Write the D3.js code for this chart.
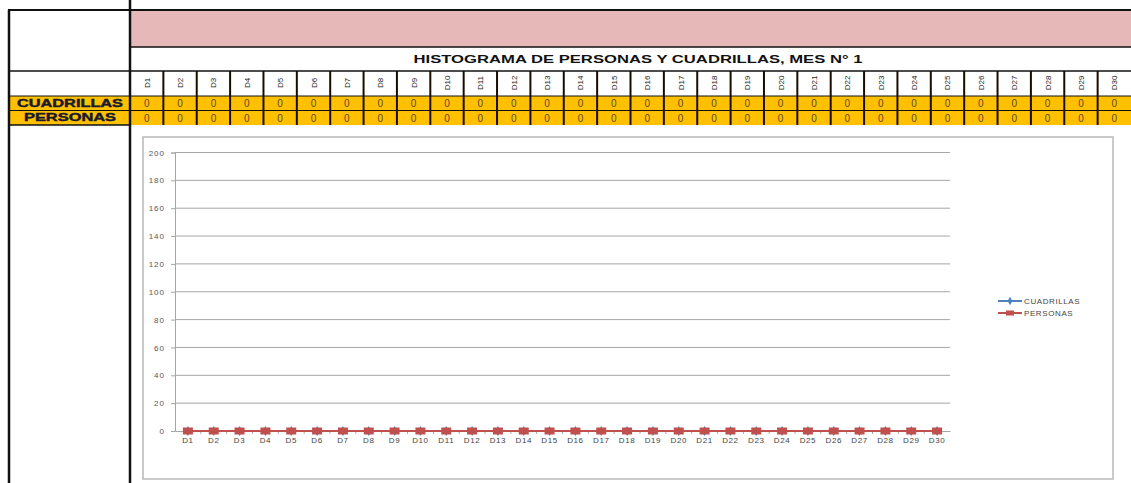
<!DOCTYPE html>
<html>
<head>
<meta charset="utf-8">
<script src="https://cdn.jsdelivr.net/npm/d3@7/dist/d3.min.js"></script>
<style>
  html, body { margin: 0; padding: 0; background: #fff; overflow: hidden; }
  text { font-family: "Liberation Sans", Arial, sans-serif; }
</style>
</head>
<body>
<div id="vis"></div>
<script>
const title = "HISTOGRAMA DE PERSONAS Y CUADRILLAS, MES N° 1";
const days = ["D1", "D2", "D3", "D4", "D5", "D6", "D7", "D8", "D9", "D10",
  "D11", "D12", "D13", "D14", "D15", "D16", "D17", "D18", "D19", "D20",
  "D21", "D22", "D23", "D24", "D25", "D26", "D27", "D28", "D29", "D30"];
const cuadrillas = [0, 0, 0, 0, 0, 0, 0, 0, 0, 0, 0, 0, 0, 0, 0,
  0, 0, 0, 0, 0, 0, 0, 0, 0, 0, 0, 0, 0, 0, 0];
const personas = [0, 0, 0, 0, 0, 0, 0, 0, 0, 0, 0, 0, 0, 0, 0,
  0, 0, 0, 0, 0, 0, 0, 0, 0, 0, 0, 0, 0, 0, 0];
const yTicks = [0, 20, 40, 60, 80, 100, 120, 140, 160, 180, 200];
const seriesNames = ["CUADRILLAS", "PERSONAS"];
const seriesColors = ["#4F81BD", "#C0504D"];

const w = 1131, h = 483;
const svg = d3.select("#vis").append("svg").attr("width", w).attr("height", h);

// ---- spreadsheet part ----
const colX = d3.scaleBand().domain(days).range([130, 1131]);
const rows = [
  { name: seriesNames[0], values: cuadrillas, y: 96 },
  { name: seriesNames[1], values: personas, y: 110.5 }
];
const rowH = 14.5;

// pink band
svg.append("rect").attr("x", 130).attr("y", 10).attr("width", w - 130).attr("height", 37)
  .attr("fill", "#E6B8B7");

// title
svg.append("text").attr("x", 638).attr("y", 63).attr("text-anchor", "middle")
  .attr("font-family", "DejaVu Sans").attr("font-weight", "bold").attr("font-size", 10)
  .attr("textLength", 449).attr("lengthAdjust", "spacingAndGlyphs")
  .attr("fill", "#111").text(title);

// day header cells
svg.selectAll(".dayLabel").data(days).join("text")
  .attr("class", "dayLabel")
  .attr("transform", d => `translate(${colX(d) + colX.bandwidth() / 2 + 3},83) rotate(-90)`)
  .attr("text-anchor", "middle").attr("font-size", 8).attr("fill", "#222")
  .text(d => d);

// orange rows
rows.forEach(r => {
  svg.append("rect").attr("x", 8).attr("y", r.y).attr("width", w - 8).attr("height", rowH)
    .attr("fill", "#FFC000");
  svg.append("text").attr("x", 70).attr("y", r.y + 10.5).attr("text-anchor", "middle")
    .attr("font-family", "DejaVu Sans").attr("font-weight", "bold").attr("font-size", 10)
    .attr("textLength", r.name === "CUADRILLAS" ? 106 : 92).attr("lengthAdjust", "spacingAndGlyphs")
    .attr("fill", "#1a1a2e").attr("stroke", "#1a1a2e").attr("stroke-width", 0.4)
    .text(r.name);
  svg.selectAll(null).data(r.values).join("text")
    .attr("x", (d, i) => colX(days[i]) + colX.bandwidth() / 2)
    .attr("y", r.y + 11).attr("text-anchor", "middle").attr("font-size", 10)
    .attr("font-family", "DejaVu Sans")
    .attr("fill", "#5a4a2a").text(d => d);
});

// grid lines of the sheet
const g = svg.append("g").attr("stroke", "#111").attr("fill", "none");
g.append("line").attr("x1", 8).attr("x2", w).attr("y1", 10).attr("y2", 10).attr("stroke-width", 2);
g.append("line").attr("x1", 130).attr("x2", w).attr("y1", 47).attr("y2", 47).attr("stroke-width", 1.5);
g.append("line").attr("x1", 8).attr("x2", w).attr("y1", 71).attr("y2", 71).attr("stroke-width", 1.5);
g.append("line").attr("x1", 8).attr("x2", w).attr("y1", 96).attr("y2", 96).attr("stroke-width", 1);
g.append("line").attr("x1", 8).attr("x2", w).attr("y1", 110.5).attr("y2", 110.5).attr("stroke-width", 1);
g.append("line").attr("x1", 8).attr("x2", 130).attr("y1", 125).attr("y2", 125).attr("stroke-width", 1.5);
g.append("line").attr("x1", 9).attr("x2", 9).attr("y1", 10).attr("y2", h).attr("stroke-width", 2.5);
g.append("line").attr("x1", 130).attr("x2", 130).attr("y1", 0).attr("y2", h).attr("stroke-width", 2.5);
g.selectAll(".colSep").data(days.slice(1)).join("line")
  .attr("class", "colSep")
  .attr("x1", d => colX(d)).attr("x2", d => colX(d))
  .attr("y1", 71).attr("y2", 125).attr("stroke-width", 2).attr("stroke", "#1a0d00");

// ---- chart part ----
svg.append("rect").attr("x", 143).attr("y", 137).attr("width", 970).attr("height", 342)
  .attr("fill", "#fff").attr("stroke", "#B8B8B8").attr("stroke-width", 1.5);

const x = d3.scaleBand().domain(days).range([175, 950]);
const y = d3.scaleLinear().domain([0, 200]).range([431, 152.5]);

// gridlines
svg.append("g").selectAll("line").data(yTicks.filter(t => t > 0)).join("line")
  .attr("x1", 175).attr("x2", 950).attr("y1", d => y(d)).attr("y2", d => y(d))
  .attr("stroke", "#A6A6A6").attr("stroke-width", 1);

const yAxis = svg.append("g").attr("transform", "translate(175,0)")
  .call(d3.axisLeft(y).tickValues(yTicks).tickSize(4).tickPadding(6));
yAxis.select(".domain").attr("stroke", "#A6A6A6");
yAxis.selectAll(".tick line").attr("stroke", "#A6A6A6");
yAxis.selectAll(".tick text").attr("font-size", 8).attr("fill", "#555")
  .attr("font-family", "DejaVu Sans").attr("letter-spacing", 1);

const xAxis = svg.append("g").attr("transform", "translate(0,431)")
  .call(d3.axisBottom(x).tickSize(0).tickPadding(6));
xAxis.select(".domain").attr("stroke", "#A6A6A6");
xAxis.selectAll(".tick text").attr("font-size", 8).attr("fill", "#444")
  .attr("font-family", "DejaVu Sans").attr("letter-spacing", 0.6);
// category separator ticks
svg.append("g").selectAll("line").data(days.slice(1)).join("line")
  .attr("x1", d => x(d)).attr("x2", d => x(d)).attr("y1", 431).attr("y2", 434)
  .attr("stroke", "#A6A6A6");

const line = d3.line().x((d, i) => x(days[i]) + x.bandwidth() / 2).y(d => y(d));
const series = [cuadrillas, personas];
series.forEach((s, k) => {
  svg.append("path").attr("d", line(s)).attr("fill", "none")
    .attr("stroke", seriesColors[k]).attr("stroke-width", 2);
  if (k === 0) {
    svg.append("g").selectAll("path").data(s).join("path")
      .attr("d", d3.symbol(d3.symbolDiamond, 30)())
      .attr("transform", (d, i) => `translate(${x(days[i]) + x.bandwidth() / 2},${y(d)})`)
      .attr("fill", seriesColors[k]);
  } else {
    svg.append("g").selectAll("rect").data(s).join("rect")
      .attr("x", (d, i) => x(days[i]) + x.bandwidth() / 2 - 5).attr("y", d => y(d) - 3.5)
      .attr("width", 10).attr("height", 7).attr("fill", seriesColors[k]);
  }
});

// legend
const lg = svg.append("g").attr("transform", "translate(998,301)");
seriesNames.forEach((n, k) => {
  const row = lg.append("g").attr("transform", `translate(0,${k * 12})`);
  row.append("line").attr("x1", 0).attr("x2", 24).attr("stroke", seriesColors[k]).attr("stroke-width", 2);
  if (k === 0) {
    row.append("path").attr("d", d3.symbol(d3.symbolDiamond, 20)())
      .attr("transform", "translate(12,0)").attr("fill", seriesColors[k]);
  } else {
    row.append("rect").attr("x", 8).attr("y", -2.5).attr("width", 8).attr("height", 5).attr("fill", seriesColors[k]);
  }
  row.append("text").attr("x", 26).attr("y", 3).attr("font-size", 8).attr("fill", "#444")
    .attr("font-family", "DejaVu Sans").attr("letter-spacing", 0.6).text(n);
});
</script>
</body>
</html>
